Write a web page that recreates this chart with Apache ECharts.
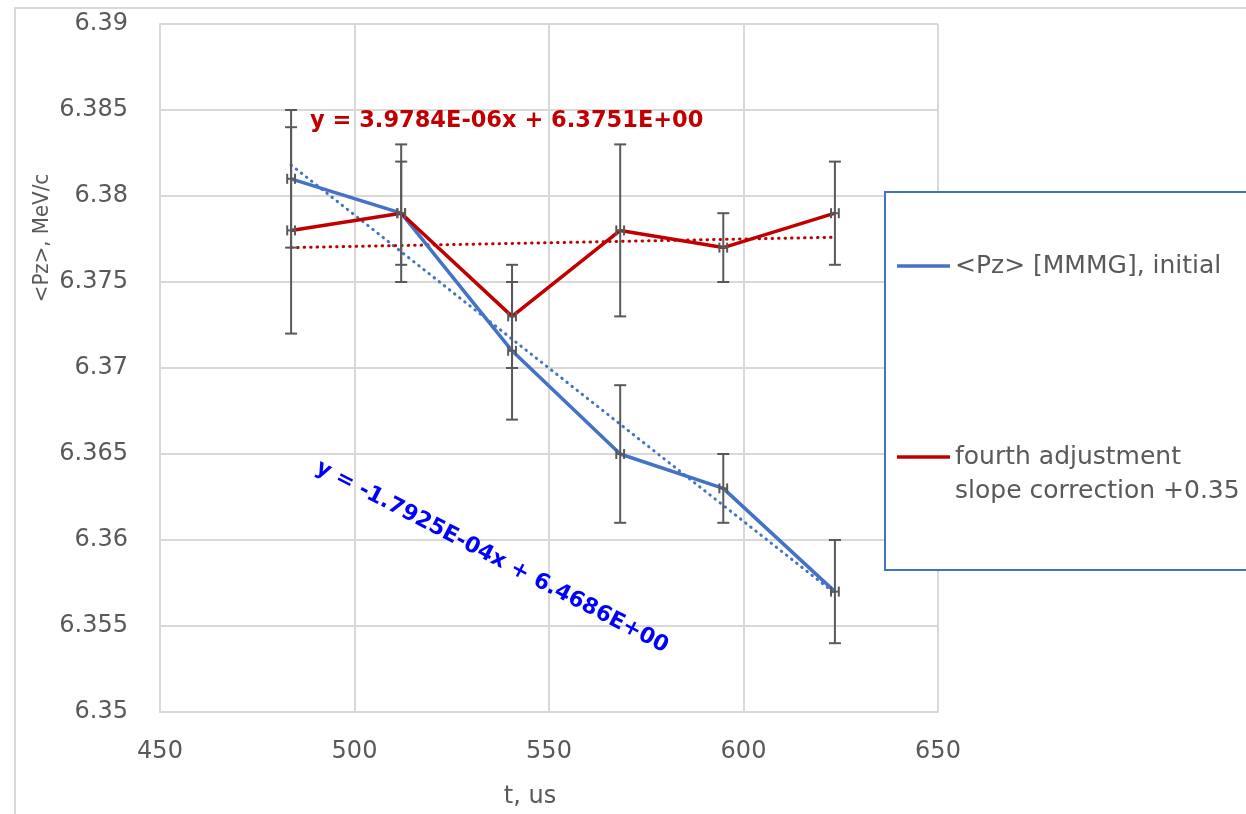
<!DOCTYPE html>
<html><head><meta charset="utf-8">
<script src="https://cdn.jsdelivr.net/npm/echarts@6/dist/echarts.min.js"></script>
<style>html,body{margin:0;padding:0;background:#fff}#c{width:1246px;height:814px}</style>
</head><body><div id="c"></div>
<script>
// ---- data ----
const tValues = [483.7, 512.0, 540.5, 568.3, 594.8, 623.5];
const pzInitial = [6.381, 6.379, 6.371, 6.365, 6.363, 6.357];
const pzInitialErr = [0.004, 0.004, 0.004, 0.004, 0.002, 0.003];
const pzFourth = [6.378, 6.379, 6.373, 6.378, 6.377, 6.379];
const pzFourthErr = [0.006, 0.003, 0.003, 0.005, 0.002, 0.003];
const tErr = [1, 1, 1, 1, 1, 1];
const trendT = [483.7, 623.5];
const trendInitial = [6.3818, 6.3569];
const trendFourth = [6.3770, 6.3776];
const seriesNames = ['<Pz> [MMMG], initial', 'fourth adjustment\nslope correction +0.35'];
const eqInitial = 'y = -1.7925E-04x + 6.4686E+00';
const eqFourth = 'y = 3.9784E-06x + 6.3751E+00';
const xAxisTitle = 't, us';
const yAxisTitle = '<Pz>, MeV/c';

const BLUE = '#4472C4', RED = '#C00000', GRAY = '#595959', GRID = '#D9D9D9';
const FONT = '"DejaVu Sans", sans-serif';

function pairs(xs, ys) { return xs.map((x, i) => [x, ys[i]]); }
function errData(xs, ys, es, exs) { return xs.map((x, i) => [x, ys[i], es[i], exs[i]]); }

function errRender(params, api) {
  const x = api.value(0), y = api.value(1), e = api.value(2), ex = api.value(3);
  const top = api.coord([x, y + e]), bot = api.coord([x, y - e]);
  const l = api.coord([x - ex, y]), r = api.coord([x + ex, y]);
  const cw = 6, ch = 5;
  const st = { stroke: GRAY, lineWidth: 2, fill: null };
  return { type: 'group', children: [
    { type: 'line', shape: { x1: top[0], y1: top[1], x2: bot[0], y2: bot[1] }, style: st },
    { type: 'line', shape: { x1: top[0] - cw, y1: top[1], x2: top[0] + cw, y2: top[1] }, style: st },
    { type: 'line', shape: { x1: bot[0] - cw, y1: bot[1], x2: bot[0] + cw, y2: bot[1] }, style: st },
    { type: 'line', shape: { x1: l[0], y1: l[1], x2: r[0], y2: r[1] }, style: st },
    { type: 'line', shape: { x1: l[0], y1: l[1] - ch, x2: l[0], y2: l[1] + ch }, style: st },
    { type: 'line', shape: { x1: r[0], y1: r[1] - ch, x2: r[0], y2: r[1] + ch }, style: st }
  ]};
}

const chart = echarts.init(document.getElementById('c'), null, { renderer: 'canvas' });
chart.setOption({
  backgroundColor: '#fff',
  animation: false,
  grid: { left: 160, right: 308, top: 24, bottom: 102, containLabel: false },
  xAxis: {
    type: 'value', min: 450, max: 650, interval: 50,
    axisLine: { show: true, lineStyle: { color: GRID, width: 2 } },
    axisTick: { show: false },
    splitLine: { show: true, lineStyle: { color: GRID, width: 2 } },
    axisLabel: { color: GRAY, fontFamily: FONT, fontSize: 24, margin: 28 }
  },
  yAxis: {
    type: 'value', min: 6.35, max: 6.39, interval: 0.005,
    axisLine: { show: true, lineStyle: { color: GRID, width: 2 } },
    axisTick: { show: false },
    splitLine: { show: true, lineStyle: { color: GRID, width: 2 } },
    axisLabel: { color: GRAY, fontFamily: FONT, fontSize: 24, margin: 32 }
  },
  series: [
    { name: seriesNames[0] + ' trend', type: 'line', data: pairs(trendT, trendInitial), symbol: 'none',
      lineStyle: { color: BLUE, width: 3, type: [0.5, 6], cap: 'round' }, z: 2 },
    { name: seriesNames[1] + ' trend', type: 'line', data: pairs(trendT, trendFourth), symbol: 'none',
      lineStyle: { color: RED, width: 3, type: [0.5, 6], cap: 'round' }, z: 2 },
    { name: seriesNames[0], type: 'line', data: pairs(tValues, pzInitial), symbol: 'none',
      lineStyle: { color: BLUE, width: 3.5 }, z: 3 },
    { name: seriesNames[1], type: 'line', data: pairs(tValues, pzFourth), symbol: 'none',
      lineStyle: { color: RED, width: 3.5 }, z: 3 },
    { type: 'custom', renderItem: errRender, data: errData(tValues, pzInitial, pzInitialErr, tErr),
      encode: { x: 0, y: 1 }, z: 4 },
    { type: 'custom', renderItem: errRender, data: errData(tValues, pzFourth, pzFourthErr, tErr),
      encode: { x: 0, y: 1 }, z: 4 }
  ],
  graphic: [
    { type: 'rect', shape: { x: 15, y: 8, width: 1400, height: 1000 }, style: { fill: null, stroke: GRID, lineWidth: 2 }, z: 1, silent: true },
    { type: 'text', x: 310, y: 121, z: 50, style: { text: eqFourth, fill: RED, font: 'bold 22.5px ' + FONT, verticalAlign: 'middle', align: 'left' } },
    { type: 'text', x: 492, y: 557, rotation: -27.4 * Math.PI / 180, z: 50,
      style: { text: eqInitial, fill: '#0000FF', font: 'bold 22px ' + FONT, verticalAlign: 'middle', align: 'center' } },
    { type: 'text', x: 42, y: 238, rotation: Math.PI / 2, z: 50,
      style: { text: yAxisTitle, fill: GRAY, font: '22px "DejaVu Sans Condensed", "DejaVu Sans", sans-serif', verticalAlign: 'middle', align: 'center' } },
    { type: 'text', x: 530, y: 797, z: 50,
      style: { text: xAxisTitle, fill: GRAY, font: '24px ' + FONT, verticalAlign: 'middle', align: 'center' } },
    { type: 'rect', shape: { x: 885, y: 192, width: 420, height: 378 }, style: { fill: '#fff', stroke: BLUE, lineWidth: 2 }, z: 100 },
    { type: 'line', shape: { x1: 897, y1: 266, x2: 950, y2: 266 }, style: { stroke: BLUE, lineWidth: 3.5 }, z: 101 },
    { type: 'text', x: 955, y: 266, z: 101, style: { text: seriesNames[0], fill: GRAY, font: '25px ' + FONT, verticalAlign: 'middle', align: 'left' } },
    { type: 'line', shape: { x1: 897, y1: 457, x2: 950, y2: 457 }, style: { stroke: RED, lineWidth: 3.5 }, z: 101 },
    { type: 'text', x: 955, y: 440, z: 101, style: { text: seriesNames[1], fill: GRAY, font: '25px ' + FONT, lineHeight: 34, verticalAlign: 'top', align: 'left' } }
  ]
});
</script></body></html>
